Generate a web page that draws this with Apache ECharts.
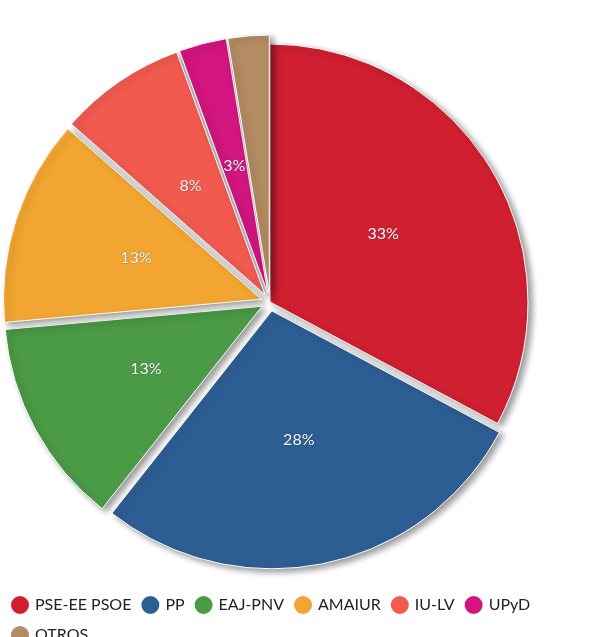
<!DOCTYPE html>
<html><head><meta charset="utf-8">
<script src="https://cdn.jsdelivr.net/npm/echarts@6/dist/echarts.min.js"></script>
<style>html,body{margin:0;padding:0;background:#fff}#c{width:600px;height:637px}</style>
</head><body><div id="c"></div>
<script>
const categories = ['PSE-EE PSOE','PP','EAJ-PNV','AMAIUR','IU-LV','UPyD','OTROS'];
const values = [33, 28, 13, 13, 8, 3, 2.59];
const labels = ['33%','28%','13%','13%','8%','3%','2,59%'];
const colors = ['#cf1f30','#2d5e93','#4b9a46','#f2a631','#f25a4f','#d3157f','#b48c63'];
const chart = echarts.init(document.getElementById('c'));
chart.setOption({
  animation:false,
  color: colors,
  legend:{
    top: 589, left: 4, width: 600, itemWidth: 20, itemHeight: 20, icon:'circle', itemGap: 8,
    formatter: '{a|{name}}',
    textStyle:{fontFamily:'Lato', fontSize:16, color:'#222', rich:{a:{width:118, fontFamily:'Lato', fontSize:16}}},
    data: categories
  },
  series:[{
    type:'pie', center:[270,302], radius:[0,258], startAngle:90, clockwise:true,
    selectedMode:'multiple', selectedOffset:9,
    label:{position:'inside', color:'#fff', fontFamily:'Lato', fontSize:16,
      formatter: p => labels[p.dataIndex], textBorderColor:'rgba(0,0,0,0.3)', textBorderWidth:1},
    itemStyle:{borderColor:'#fff', borderWidth:1, shadowBlur:6, shadowOffsetX:4, shadowOffsetY:3, shadowColor:'rgba(0,0,0,0.4)'},
    data: categories.map((n,i)=>({name:n, value:values[i], selected: i>0}))
  }]
});
</script></body></html>
